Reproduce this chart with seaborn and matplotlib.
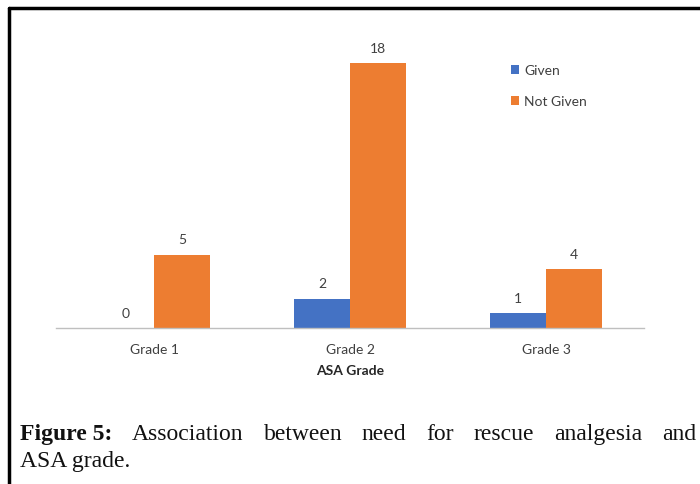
import matplotlib
matplotlib.use("Agg")
import matplotlib.pyplot as plt
from matplotlib.lines import Line2D
from matplotlib.patches import Patch
import seaborn as sns
import pandas as pd

# Rescue analgesia by ASA grade
grades = ["Grade 1", "Grade 2", "Grade 3"]
given = [0, 2, 1]
not_given = [5, 18, 4]
series_names = ["Given", "Not Given"]
series_colors = ["#4472C4", "#ED7D31"]

df = pd.DataFrame({
    "grade": grades * 2,
    "count": given + not_given,
    "status": [series_names[0]] * len(grades) + [series_names[1]] * len(grades),
})

sns.set_theme(style="white")
plt.rcParams["font.family"] = ["Lato", "DejaVu Sans"]

W, H = 700, 485
fig = plt.figure(figsize=(W / 100, H / 100), dpi=100)

# axes placed in pixel terms
left, right, base, top = 56, 644, 329, 35
ax = fig.add_axes([left / W, 1 - base / H, (right - left) / W, (base - top) / H])

sns.barplot(data=df, x="grade", y="count", hue="status", order=grades,
            hue_order=series_names, palette=series_colors, width=0.57,
            saturation=1, legend=False, ax=ax, linewidth=0)

ax.set_ylim(0, 20)
ax.set_xlim(-0.5, len(grades) - 0.5)
for s in ["top", "right", "left"]:
    ax.spines[s].set_visible(False)
ax.spines["bottom"].set_color("#BFBFBF")
ax.spines["bottom"].set_linewidth(1.0)
ax.set_yticks([])
ax.set_ylabel("")
ax.set_xticks(range(len(grades)))
ax.set_xticklabels(grades, fontsize=10, color="#404040")
ax.tick_params(axis="x", which="major", length=0, pad=11)
ax.set_xticks([i - 0.5 for i in range(len(grades) + 1)], minor=True)
ax.tick_params(axis="x", which="minor", length=6, width=1, color="#BFBFBF",
               direction="out")
ax.set_xlabel("ASA Grade", fontsize=10, fontweight="bold", color="#262626",
              labelpad=6)

# value labels above each bar
for container in ax.containers:
    for bar in container:
        h = bar.get_height()
        ax.annotate(f"{h:.0f}", (bar.get_x() + bar.get_width() / 2, h),
                    xytext=(0, 11), textcoords="offset points",
                    ha="center", va="center", fontsize=10, color="#404040")

# legend
handles = [Patch(facecolor=c, edgecolor="none") for c in series_colors]
fig.legend(handles, series_names, loc="upper left",
           bbox_to_anchor=(511 / W, 1 - 65 / H), frameon=False,
           fontsize=10, handlelength=0.6, handleheight=0.6,
           handletextpad=0.35, labelspacing=1.4, labelcolor="#404040",
           borderaxespad=0, borderpad=0)

# frame lines along top and left edges
fig.add_artist(Line2D([9 / W, 1.0], [1 - 9 / H, 1 - 9 / H], color="black",
                      lw=2.5, transform=fig.transFigure))
fig.add_artist(Line2D([9 / W, 9 / W], [0, 1 - 9 / H], color="black",
                      lw=2.5, transform=fig.transFigure))

# caption, first line justified between the margins
serif = ["Liberation Serif", "DejaVu Serif"]
cap_size = 17
x0, x1 = 20, 696
y1 = 1 - 440 / H
y2 = 1 - 467 / H
bold_part = "Figure 5:"
words = "Association between need for rescue analgesia and".split()
fig.canvas.draw()
renderer = fig.canvas.get_renderer()
pieces = [fig.text(0, y1, bold_part, fontsize=cap_size, fontweight="bold",
                   family=serif, color="#111111", va="baseline")]
pieces += [fig.text(0, y1, w, fontsize=cap_size, family=serif,
                    color="#111111", va="baseline") for w in words]
widths = [p.get_window_extent(renderer).width for p in pieces]
gap = ((x1 - x0) - sum(widths)) / (len(pieces) - 1)
x = x0
for p, w in zip(pieces, widths):
    p.set_x(x / W)
    x += w + gap
fig.text(x0 / W, y2, "ASA grade.", fontsize=cap_size, family=serif,
         color="#111111", va="baseline")

fig.savefig("out.png", dpi=100)
